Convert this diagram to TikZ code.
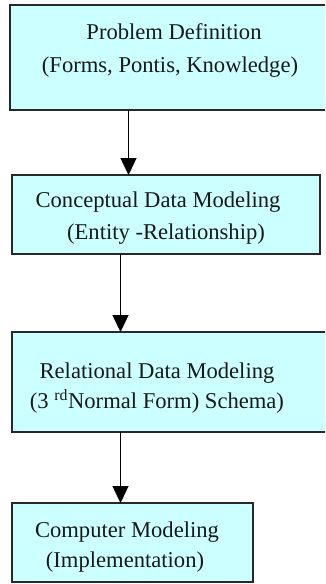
\documentclass[tikz,border=0pt]{standalone}
\usepackage{fontspec}
\setmainfont{Liberation Serif}
\usetikzlibrary{arrows.meta}
\definecolor{boxfill}{RGB}{204,255,255}
\definecolor{boxline}{RGB}{40,40,40}
\tikzset{
  stagebox/.style={draw=boxline, fill=boxfill, line width=1.4pt, rectangle,
    anchor=north west, inner sep=0pt, outer sep=0pt},
  txt/.style={anchor=base, inner sep=0pt, font=\fontsize{22.6}{26}\selectfont, text=black!90},
  arr/.style={draw=black, line width=1.4pt, -{Triangle[length=17pt,width=16pt]}}
}
\begin{document}
\begin{tikzpicture}[x=1pt,y=-1pt]
  \useasboundingbox (0,0) rectangle (325,584);
  \clip (0,0) rectangle (325,584);

  % the four stages
  \node[stagebox, minimum width=318pt, minimum height=105pt] (b1) at (10,5) {};
  \node[stagebox, minimum width=308pt, minimum height=79pt]  (b2) at (12,175) {};
  \node[stagebox, minimum width=316pt, minimum height=100pt] (b3) at (12,332) {};
  \node[stagebox, minimum width=241pt, minimum height=79pt]  (b4) at (12,503) {};

  % stage texts
  \node[txt] (t1a) at (174,39.5) {Problem Definition};
  \node[txt] (t1b) at (170,72)   {(Forms, Pontis, Knowledge)};
  \node[txt] (t2a) at (158,207)  {Conceptual Data Modeling};
  \node[txt] (t2b) at (166,239)  {(Entity -Relationship)};
  \node[txt] (t3a) at (157,378)  {Relational Data Modeling};
  \node[txt] (t3b) at (157,408)  {(3 \textsuperscript{rd}Normal Form) Schema)};
  \node[txt] (t4a) at (127,537)  {Computer Modeling};
  \node[txt] (t4b) at (125,567)  {(Implementation)};

  % columns of the connectors
  \coordinate (c1) at (128.5,0);
  \coordinate (c2) at (120.5,0);

  % connectors between the stages
  \draw[arr] (b1.south -| c1) -- (b2.north -| c1);
  \draw[arr] (b2.south -| c2) -- (b3.north -| c2);
  \draw[arr] (b3.south -| c2) -- (b4.north -| c2);
\end{tikzpicture}
\end{document}
